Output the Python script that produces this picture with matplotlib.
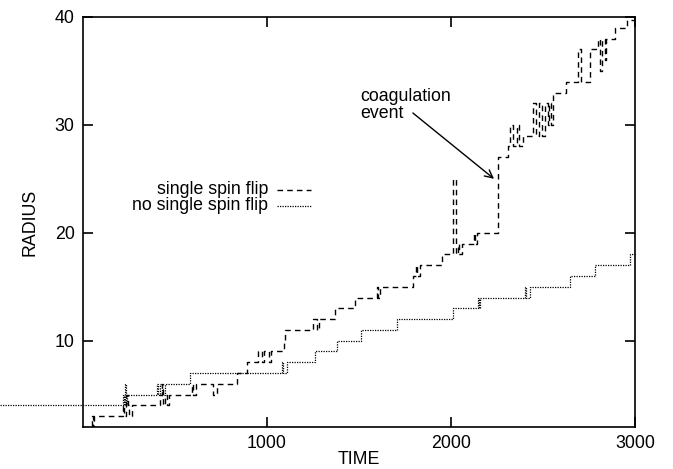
import matplotlib
matplotlib.use("Agg")
import matplotlib.pyplot as plt

plt.rcParams['font.family'] = ['Liberation Sans', 'DejaVu Sans']

# single spin flip: (time, radius) change points, step-post
t_ssf = [0, 50, 56, 62, 217, 225, 235, 242, 252, 265, 420, 428, 435, 447, 455, 467,
         590, 597, 612, 707, 728, 837, 890, 951, 975, 982, 1012, 1020, 1090, 1098,
         1250, 1272, 1282, 1370, 1478, 1598, 1605, 1614, 1793, 1810, 1818, 1830,
         1951, 2011, 2028, 2040, 2046, 2060, 2125, 2132, 2141, 2255, 2310, 2320,
         2335, 2358, 2372, 2391, 2446, 2460, 2478, 2492, 2512, 2525, 2535, 2545,
         2555, 2625, 2690, 2705, 2755, 2800, 2810, 2822, 2835, 2842, 2890, 2955, 3000]
r_ssf = [2, 3, 2, 3, 4, 3, 5, 4, 3, 4, 5, 6, 4, 5, 4, 5,
         6, 5, 6, 5, 6, 7, 8, 9, 8, 9, 8, 9, 10, 11,
         12, 11, 12, 13, 14, 15, 14, 15, 16, 17, 16, 17,
         18, 25, 18, 19, 18, 19, 20, 19, 20, 27, 28, 30,
         28, 30, 28, 29, 32, 29, 32, 29, 32, 30, 32, 30,
         33, 34, 37, 34, 37, 38, 35, 38, 36, 38, 39, 39.7, 39.7]

# no single spin flip
t_nsf = [-451, 217, 222, 228, 234, 240, 400, 408, 420, 428, 446, 582, 1080, 1088, 1109,
         1260, 1380, 1510, 1707, 2011, 2147, 2152, 2160, 2400, 2408, 2429, 2647,
         2783, 2975, 3000]
r_nsf = [4, 5, 4, 6, 4, 5, 6, 5, 6, 5, 6, 7, 8, 7, 8,
         9, 10, 11, 12, 13, 14, 13, 14, 15, 14, 15, 16,
         17, 18, 18]

fs = 12.8

fig = plt.figure(figsize=(6.73, 4.69), dpi=100)
ax = fig.add_axes([0.1233, 0.0896, 0.8202, 0.8742])

ax.plot(t_ssf, r_ssf, drawstyle='steps-post', color='black', lw=1.0,
        linestyle=(0, (4, 3)))
ax.plot(t_nsf, r_nsf, drawstyle='steps-post', color='black', lw=0.9,
        linestyle=(0, (1, 1)), clip_on=False)

ax.set_xlim(0, 3000)
ax.set_ylim(2, 40)
ax.set_xticks([1000, 2000, 3000])
ax.set_yticks([10, 20, 30, 40])
ax.tick_params(direction='in', length=7, width=1.2, top=True, right=True,
               labelsize=fs, pad=6)
for s in ax.spines.values():
    s.set_linewidth(1.2)

ax.set_xlabel("TIME", fontsize=fs, labelpad=-1)
ax.set_ylabel("RADIUS", fontsize=fs, labelpad=12)

# legend, gnuplot style
ax.text(0.335, 0.578, "single spin flip", ha='right', va='center',
        fontsize=fs, transform=ax.transAxes)
ax.plot([0.351, 0.413], [0.578, 0.578], color='black', lw=1.0,
        linestyle=(0, (4, 3)), transform=ax.transAxes)
ax.text(0.335, 0.539, "no single spin flip", ha='right', va='center',
        fontsize=fs, transform=ax.transAxes)
ax.plot([0.351, 0.413], [0.539, 0.539], color='black', lw=0.9,
        linestyle=(0, (1, 1)), transform=ax.transAxes)

# annotation
ax.text(1505, 33.4, "coagulation\nevent", ha='left', va='top', fontsize=fs,
        linespacing=0.95)
ax.annotate("", xy=(2234, 25.0), xytext=(1793, 31.1),
            arrowprops=dict(arrowstyle='->', color='black', lw=1.0,
                            mutation_scale=14, shrinkA=0, shrinkB=0))

fig.savefig("out.png", dpi=100)
